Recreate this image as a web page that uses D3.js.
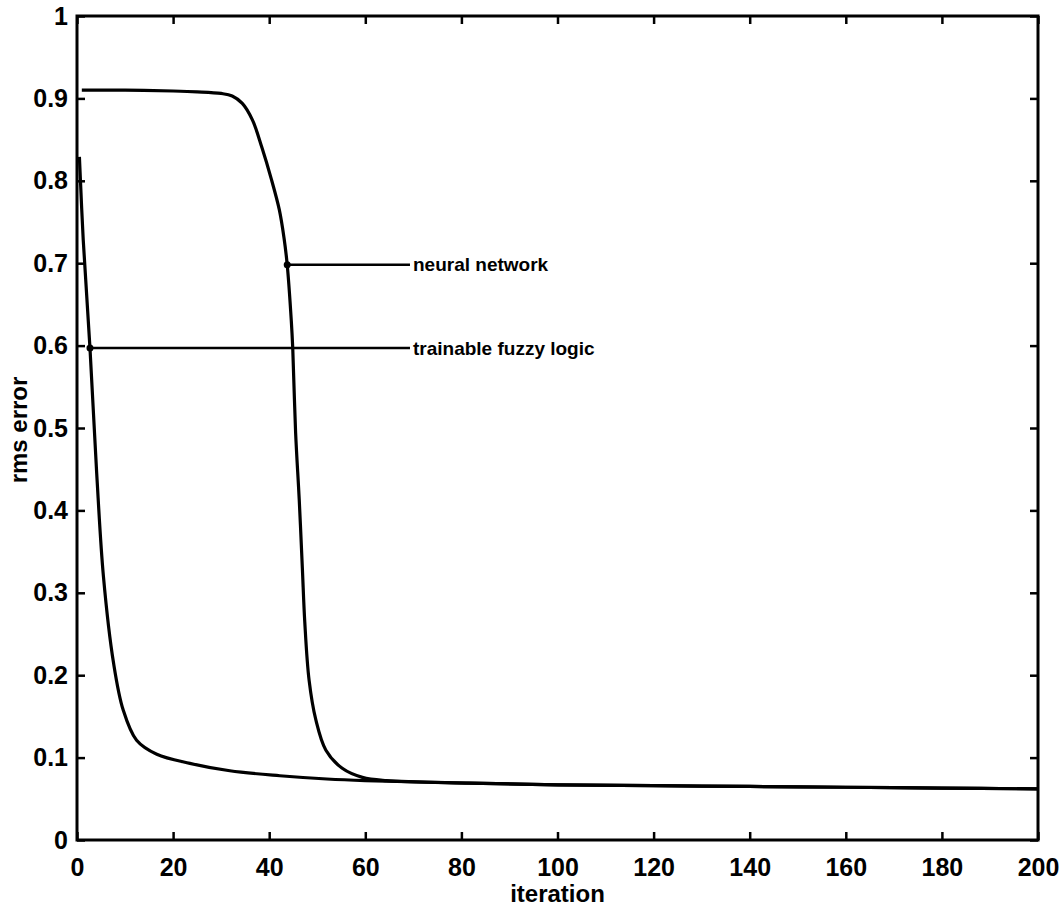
<!DOCTYPE html>
<html>
<head>
<meta charset="utf-8">
<script src="https://cdn.jsdelivr.net/npm/d3@7"></script>
<style>
  body { margin: 0; background: #fff; }
  text { font-family: 'Liberation Sans', Arial, Helvetica, sans-serif; fill: #000; }
  .tick-label { font-size: 25px; font-weight: bold; }
  .axis-name { font-size: 24px; font-weight: bold; }
  .note { font-size: 19px; font-weight: bold; }
</style>
</head>
<body>
<div id="chart"></div>
<script>
// Data
const nnIter = [1, 10, 20, 25, 30, 32.3, 34.4, 36.5, 38.5, 40.4, 42.1, 43.1, 43.75, 44.6, 44.9, 45.5, 46.25, 46.9, 47.4, 48.3, 49.7, 51.8, 55.2, 59.4, 64.4, 81.7, 100, 120, 140, 160, 180, 200];
const nnErr = [0.910, 0.910, 0.909, 0.908, 0.906, 0.903, 0.894, 0.874, 0.840, 0.803, 0.765, 0.730, 0.698, 0.630, 0.597, 0.494, 0.413, 0.330, 0.265, 0.194, 0.146, 0.109, 0.087, 0.076, 0.072, 0.069, 0.067, 0.066, 0.065, 0.064, 0.063, 0.062];

const fzIter = [0.5, 1.3, 2.7, 4.1, 5.5, 7.6, 9.6, 12.4, 16.6, 23.5, 31.8, 42.2, 52, 60, 81.7, 100, 120, 140, 160, 180, 200];
const fzErr = [0.829, 0.728, 0.597, 0.445, 0.320, 0.215, 0.158, 0.121, 0.104, 0.093, 0.084, 0.078, 0.074, 0.072, 0.069, 0.067, 0.066, 0.065, 0.064, 0.063, 0.062];

const xTicks = [0, 20, 40, 60, 80, 100, 120, 140, 160, 180, 200];
const yTicks = [0, 0.1, 0.2, 0.3, 0.4, 0.5, 0.6, 0.7, 0.8, 0.9, 1];

// annotations: [label, start iteration, value, end iteration]
const notes = [
  ['neural network', 43.75, 0.698, 69.3],
  ['trainable fuzzy logic', 2.7, 0.597, 69.3],
];

const margin = { t: 16, r: 25, b: 69, l: 77 };
const W = 1063;
const H = 909;
const width = W - margin.l - margin.r;
const height = H - margin.t - margin.b;

const svg = d3.select('#chart')
  .append('svg')
  .attr('width', W)
  .attr('height', H)
  .append('g')
  .attr('transform', `translate(${margin.l}, ${margin.t})`);

const x = d3.scaleLinear().domain([0, 200]).range([0, width]);
const y = d3.scaleLinear().domain([0, 1]).range([height, 0]);

// box + inward ticks on all four sides
const tickLen = 8;
const axStroke = 3;

function styleAxis(g) {
  g.select('.domain').remove();
  g.selectAll('.tick line').attr('stroke', '#000').attr('stroke-width', 2.5);
}

svg.append('g')
  .attr('transform', `translate(0,${height})`)
  .call(d3.axisBottom(x).tickValues(xTicks).tickSize(-tickLen).tickPadding(18).tickFormat(d3.format('d')))
  .call(styleAxis)
  .call((g) => g.selectAll('.tick text').attr('class', 'tick-label').attr('font-family', null).attr('font-size', null));

svg.append('g')
  .call(d3.axisTop(x).tickValues(xTicks).tickSize(-tickLen).tickFormat(''))
  .call(styleAxis);

svg.append('g')
  .call(d3.axisLeft(y).tickValues(yTicks).tickSize(-tickLen).tickPadding(9).tickFormat((d) => (d === 0 || d === 1 ? d3.format('d')(d) : d3.format('.1f')(d))))
  .call(styleAxis)
  .call((g) => g.selectAll('.tick text').attr('class', 'tick-label').attr('font-family', null).attr('font-size', null));

svg.append('g')
  .attr('transform', `translate(${width},0)`)
  .call(d3.axisRight(y).tickValues(yTicks).tickSize(-tickLen).tickFormat(''))
  .call(styleAxis);

svg.append('rect')
  .attr('width', width)
  .attr('height', height)
  .attr('fill', 'none')
  .attr('stroke', '#000')
  .attr('stroke-width', axStroke);

// curves
const line = d3.line()
  .x((d) => x(d[0]))
  .y((d) => y(d[1]))
  .curve(d3.curveCatmullRom.alpha(0.5));

const series = [
  d3.zip(nnIter, nnErr),
  d3.zip(fzIter, fzErr),
];

svg.selectAll('.curve')
  .data(series)
  .join('path')
  .attr('class', 'curve')
  .attr('d', line)
  .attr('fill', 'none')
  .attr('stroke', '#000')
  .attr('stroke-width', 3.2)
  .attr('stroke-linejoin', 'round');

// annotation leaders
svg.selectAll('.leader')
  .data(notes)
  .join('line')
  .attr('class', 'leader')
  .attr('x1', (d) => x(d[1]))
  .attr('x2', (d) => x(d[3]))
  .attr('y1', (d) => y(d[2]))
  .attr('y2', (d) => y(d[2]))
  .attr('stroke', '#000')
  .attr('stroke-width', 2.5);

svg.selectAll('.dot')
  .data(notes)
  .join('circle')
  .attr('class', 'dot')
  .attr('cx', (d) => x(d[1]))
  .attr('cy', (d) => y(d[2]))
  .attr('r', 3.5)
  .attr('fill', '#000');

svg.selectAll('.note')
  .data(notes)
  .join('text')
  .attr('class', 'note')
  .attr('x', (d) => x(d[3]) + 3)
  .attr('y', (d) => y(d[2]))
  .attr('dy', '0.35em')
  .text((d) => d[0]);

// axis names
svg.append('text')
  .attr('class', 'axis-name')
  .attr('text-anchor', 'middle')
  .attr('x', width / 2)
  .attr('y', height + 62)
  .text('iteration');

svg.append('text')
  .attr('class', 'axis-name')
  .attr('text-anchor', 'middle')
  .attr('transform', `translate(${-margin.l + 27}, ${y(0.5) + 2}) rotate(-90)`)
  .text('rms error');
</script>
</body>
</html>
